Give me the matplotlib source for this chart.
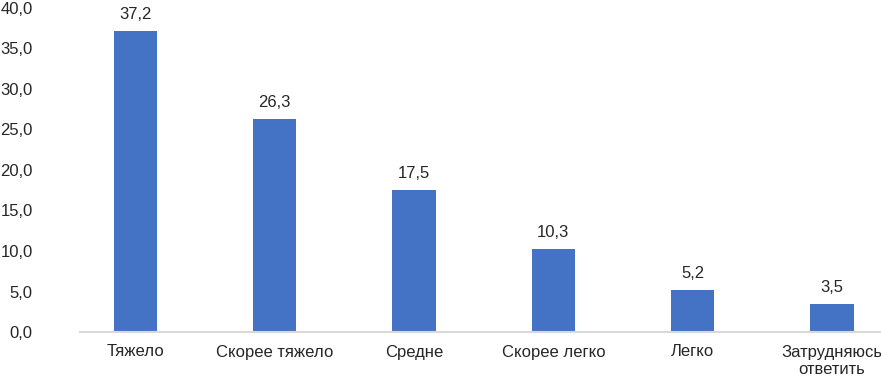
import matplotlib.pyplot as plt
from matplotlib.ticker import FuncFormatter

plt.rcParams['font.family'] = ['Liberation Sans', 'DejaVu Sans']

categories = ["Тяжело", "Скорее тяжело", "Средне", "Скорее легко", "Легко", "Затрудняюсь\nответить"]
values = [37.2, 26.3, 17.5, 10.3, 5.2, 3.5]

fig = plt.figure(figsize=(8.81, 3.78), dpi=100)
ax = fig.add_axes([80 / 881, 1 - 332 / 378, 1 - 80 / 881, (332 - 8) / 378])

x = range(len(categories))
bars = ax.bar(x, values, width=0.31, color="#4472C4", zorder=2)

# value labels above bars, decimal comma
for xi, v in zip(x, values):
    ax.text(xi, v + 1.1, f"{v:.1f}".replace(".", ","), ha="center", va="bottom",
            fontsize=12, color="#262626")

ax.set_ylim(0, 40)
ax.set_xlim(-0.398, 5.352)
ax.set_yticks(range(0, 41, 5))
ax.yaxis.set_major_formatter(FuncFormatter(lambda v, p: f"{v:.1f}".replace(".", ",")))
ax.set_xticks(list(x))
ax.set_xticklabels(categories, linespacing=1.25)
ax.tick_params(axis="both", length=0, labelsize=12, colors="#262626")
ax.tick_params(axis="x", pad=9)
ax.tick_params(axis="y", pad=34)

for s in ["top", "right", "left"]:
    ax.spines[s].set_visible(False)
ax.spines["bottom"].set_color("#d9d9d9")
ax.spines["bottom"].set_linewidth(1.5)

fig.savefig("out.png", dpi=100)
